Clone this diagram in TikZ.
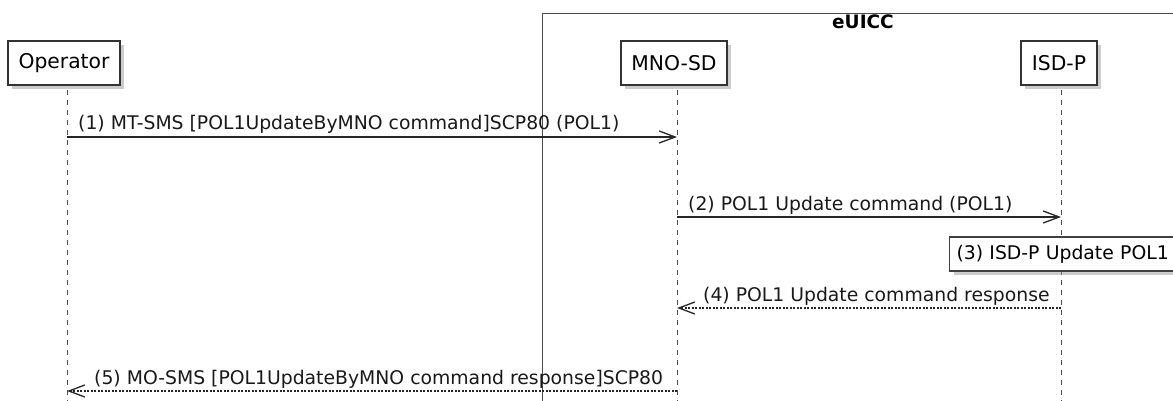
\documentclass[tikz,border=0pt]{standalone}
\usepackage{fontspec}
\setmainfont{DejaVu Sans}
\usetikzlibrary{arrows.meta,shadows}

\begin{document}
\begin{tikzpicture}[x=1pt,y=-1pt,>={Straight Barb[length=16pt,width=12pt]},
  actor/.style={draw=black!80,line width=1.4pt,fill=white,minimum height=44pt,inner sep=0pt,
    font=\fontsize{20.3}{24}\selectfont,drop shadow={shadow xshift=4pt,shadow yshift=-4pt,fill=black!40}},
  note/.style={draw=black!75,line width=1.2pt,fill=white,minimum height=34pt,inner xsep=7pt,inner ysep=0pt,
    align=left,font=\fontsize{18.8}{22}\selectfont,drop shadow={shadow xshift=4pt,shadow yshift=-4pt,fill=black!40}},
  group/.style={draw=black!70,line width=1.3pt,inner sep=0pt,anchor=north west},
  lifeline/.style={draw=black!70,line width=1pt,dash pattern=on 5pt off 5pt},
  msg/.style={->,line width=1.3pt,draw=black!85},
  reply/.style={msg,dash pattern=on 2pt off 1.5pt},
  msgtext/.style={anchor=base west,inner sep=0pt,font=\fontsize{18.8}{22}\selectfont,text=black!90}]
  \useasboundingbox (0,0) rectangle (1173,401);
  \clip (0,0) rectangle (1173,401);

  % eUICC group
  \node[group,minimum width=642pt,minimum height=420pt] (euicc) at (542,13) {};
  \node[anchor=base,inner sep=0pt,font=\fontsize{18.5}{22}\selectfont\bfseries] (euicctitle) at (863,29) {eUICC};

  % lifelines
  \coordinate (opTop) at (67,90);   \coordinate (opBot) at (67,401);
  \coordinate (mnoTop) at (677,90); \coordinate (mnoBot) at (677,401);
  \coordinate (isdTop) at (1061,90); \coordinate (isdBot) at (1061,401);
  \draw[lifeline] (opTop) -- (opBot);
  \draw[lifeline] (mnoTop) -- (mnoBot);
  \draw[lifeline] (isdTop) -- (isdBot);

  % participants
  \node[actor,minimum width=112pt] (op) at (64,63) {Operator};
  \node[actor,minimum width=106pt] (mno) at (674,63) {MNO-SD};
  \node[actor,minimum width=76pt] (isd) at (1059,63) {ISD-P};

  % messages
  \coordinate (op1) at (67,137);   \coordinate (mno1) at (677,137);
  \coordinate (mno2) at (677,217); \coordinate (isd2) at (1061,217);
  \coordinate (isd4) at (1061,308); \coordinate (mno4) at (677,308);
  \coordinate (mno5) at (677,391); \coordinate (op5) at (67,391);

  \draw[msg] (op1) -- (mno1);
  \node[msgtext] (t1) at ([xshift=11pt,yshift=7pt]op1) {(1) MT-SMS [POL1UpdateByMNO command]SCP80 (POL1)};
  \draw[msg] (mno2) -- (isd2);
  \node[msgtext] (t2) at ([xshift=11pt,yshift=7pt]mno2) {(2) POL1 Update command (POL1)};
  \node[note,text width=218pt,anchor=west] (n3) at (949,254) {(3) ISD-P Update POL1};
  \draw[reply] (isd4) -- (mno4);
  \node[msgtext] (t4) at ([xshift=26pt,yshift=7pt]mno4) {(4) POL1 Update command response};
  \draw[reply] (mno5) -- (op5);
  \node[msgtext] (t5) at ([xshift=27pt,yshift=7pt]op5) {(5) MO-SMS [POL1UpdateByMNO command response]SCP80};
\end{tikzpicture}
\end{document}
